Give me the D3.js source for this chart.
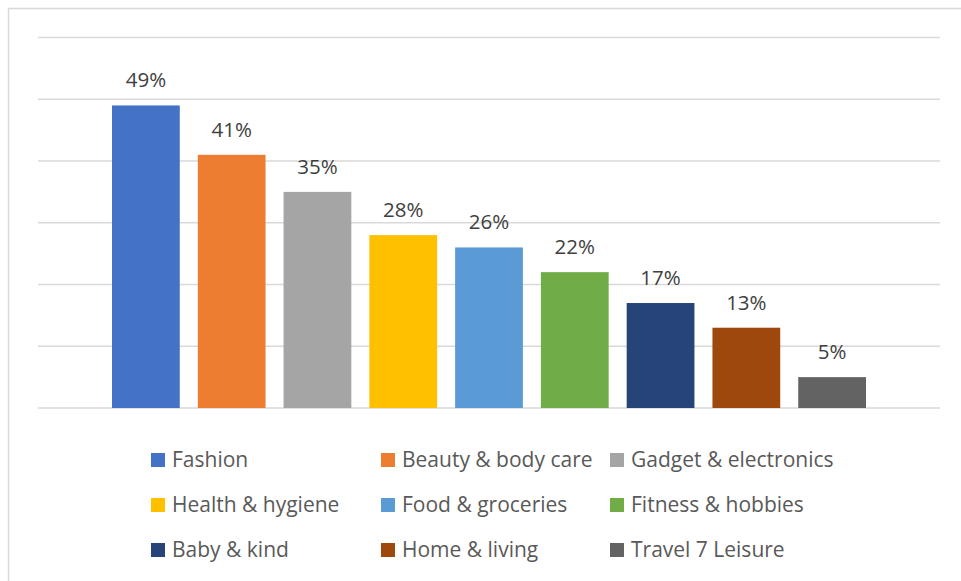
<!DOCTYPE html>
<html>
<head>
<meta charset="utf-8">
<script src="https://cdn.jsdelivr.net/npm/d3@7"></script>
<style>
  body { margin: 0; background: #fff; }
  svg { display: block; font-family: "Open Sans", Lato, sans-serif; }
</style>
</head>
<body>
<div id="main"></div>
<script>
const categories = ["Fashion", "Beauty & body care", "Gadget & electronics",
  "Health & hygiene", "Food & groceries", "Fitness & hobbies",
  "Baby & kind", "Home & living", "Travel 7 Leisure"];
const shares = [49, 41, 35, 28, 26, 22, 17, 13, 5];
const colours = ["#4472C4", "#ED7D31", "#A5A5A5", "#FFC000", "#5B9BD5",
  "#70AD47", "#264478", "#9E480E", "#636363"];
const gridTicks = [0, 10, 20, 30, 40, 50, 60];

const W = 961, H = 581;
const svg = d3.select("#main").append("svg")
    .attr("width", W)
    .attr("height", H);

// chart border (cropped at the right and bottom in the original)
svg.append("rect")
    .attr("x", 8.5).attr("y", 8.5)
    .attr("width", 970).attr("height", 590)
    .attr("fill", "#fff")
    .attr("stroke", "#d9d9d9")
    .attr("stroke-width", 1.5);

const y = d3.scaleLinear().domain([0, 60]).range([408, 37.5]);
const x = d3.scaleBand().domain(categories).range([103, 875]).paddingInner(0.21).paddingOuter(0.105);

// gridlines
svg.append("g").selectAll("line")
    .data(gridTicks)
    .join("line")
    .attr("x1", 38).attr("x2", 940)
    .attr("y1", d => y(d)).attr("y2", d => y(d))
    .attr("stroke", "#d9d9d9")
    .attr("stroke-width", 1.5);

// bars
svg.append("g").selectAll("rect")
    .data(shares)
    .join("rect")
    .attr("x", (d, i) => x(categories[i]))
    .attr("width", x.bandwidth())
    .attr("y", d => y(d))
    .attr("height", d => y(0) - y(d))
    .attr("fill", (d, i) => colours[i]);

// value labels
svg.append("g").selectAll("text")
    .data(shares)
    .join("text")
    .attr("x", (d, i) => x(categories[i]) + x.bandwidth() / 2)
    .attr("y", d => y(d) - 18)
    .attr("text-anchor", "middle")
    .attr("fill", "#404040")
    .style("font-size", "20.5px")
    .text(d => d + "%");

// legend, 3 columns x 3 rows
const colX = [151, 381, 610];
const rowY = [460, 505, 550];
const item = svg.append("g").selectAll("g")
    .data(categories)
    .join("g")
    .attr("transform", (d, i) => `translate(${colX[i % 3]},${rowY[Math.floor(i / 3)]})`);

item.append("rect")
    .attr("x", 0).attr("y", -7)
    .attr("width", 14).attr("height", 14)
    .attr("fill", (d, i) => colours[i]);

item.append("text")
    .attr("x", 21)
    .attr("dy", "0.35em")
    .attr("fill", "#595959")
    .style("font-size", "21px")
    .text(d => d);
</script>
</body>
</html>
